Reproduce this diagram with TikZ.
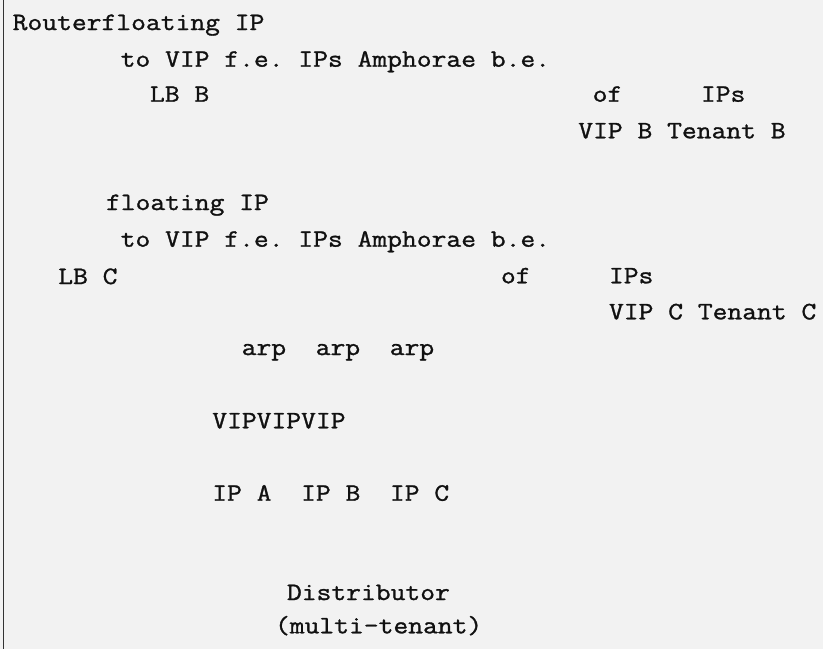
\documentclass[tikz,border=0pt]{standalone}
\usepackage{fontspec}
\setmonofont[FakeStretch=1.15, FakeBold=1.2]{Latin Modern Mono}
\definecolor{bgc}{HTML}{F2F2F2}
\definecolor{edgec}{HTML}{333333}
\definecolor{txtc}{HTML}{111111}
\tikzset{
  lbl/.style={anchor=base west, inner sep=0pt, outer sep=0pt, text=txtc,
    font=\fontsize{25}{30}\selectfont\ttfamily}
}
\begin{document}
\begin{tikzpicture}[x=1pt,y=-1pt]
\fill[bgc] (0,0) rectangle (823,649);
\useasboundingbox (0,0) rectangle (823,649);
\draw[edgec, line width=1.5pt] (3.5,0) -- (3.5,649);
% tenant B group
\node[lbl] (router) at (12.7,30) {Routerfloating IP};
\node[lbl] (toB) at (120.7,66.7) {to VIP f.e. IPs Amphorae b.e.};
\node[lbl] (lbB) at (150,101.7) {LB B};
\node[lbl] (ofB) at (592.7,101.7) {of};
\node[lbl] (ipsB) at (701,101.7) {IPs};
\node[lbl] (vipB) at (578.3,138.3) {VIP B Tenant B};
% tenant C group
\node[lbl] (flC) at (106,210) {floating IP};
\node[lbl] (toC) at (120.7,246.7) {to VIP f.e. IPs Amphorae b.e.};
\node[lbl] (lbC) at (58.3,284) {LB C};
\node[lbl] (ofC) at (501,283.3) {of};
\node[lbl] (ipsC) at (609,283.3) {IPs};
\node[lbl] (vipC) at (609,319.3) {VIP C Tenant C};
% distributor
\node[lbl] (arp) at (241.7,355) {arp\ \ arp\ \ arp};
\node[lbl] (vips) at (212.3,428.3) {VIPVIPVIP};
\node[lbl] (ips) at (212.3,500.7) {IP A\ \ IP B\ \ IP C};
\node[lbl] (dist) at (287,600) {Distributor};
\node[lbl] (mt) at (275,633.3) {(multi-tenant)};
\end{tikzpicture}
\end{document}
